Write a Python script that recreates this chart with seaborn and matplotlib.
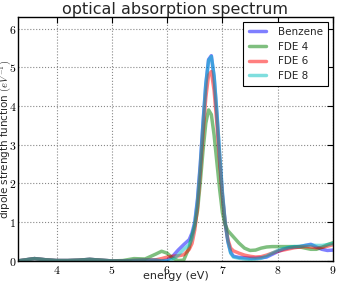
import matplotlib
matplotlib.use("Agg")
import matplotlib.pyplot as plt
from matplotlib.ticker import FuncFormatter
import pandas as pd
import seaborn as sns

energy = [3.3, 3.5, 3.6, 3.8, 4.0, 4.2, 4.4, 4.6, 4.8, 5.0,
          5.2, 5.4, 5.6, 5.8, 5.9, 6.0, 6.1, 6.2, 6.3, 6.4,
          6.45, 6.5, 6.55, 6.6, 6.65, 6.7, 6.75, 6.8, 6.85, 6.9,
          6.95, 7.0, 7.05, 7.1, 7.15, 7.2, 7.3, 7.4, 7.5, 7.6,
          7.7, 7.8, 7.9, 8.0, 8.1, 8.2, 8.3, 8.4, 8.5, 8.6,
          8.7, 8.8, 8.9, 9.0]

benzene = [0.0, 0.04, 0.06, 0.03, 0.01, 0.01, 0.02, 0.04, 0.02, 0.0,
           0.0, 0.01, 0.02, 0.02, 0.0, 0.02, 0.12, 0.28, 0.42, 0.55,
           0.72, 1.0, 1.6, 2.5, 3.58, 4.57, 5.2, 5.3, 4.75, 3.8,
           2.72, 1.73, 0.98, 0.5, 0.22, 0.12, 0.09, 0.08, 0.07, 0.07,
           0.08, 0.1, 0.17, 0.24, 0.3, 0.34, 0.36, 0.37, 0.4, 0.43,
           0.36, 0.3, 0.27, 0.28]

fde4 = [0.0, 0.04, 0.06, 0.03, 0.01, 0.01, 0.02, 0.04, 0.02, 0.0,
        0.01, 0.06, 0.05, 0.18, 0.25, 0.2, 0.07, 0.01, 0.02, 0.35,
        0.65, 0.9, 1.3, 2.03, 2.86, 3.56, 3.9, 3.78, 3.25, 2.55,
        1.85, 1.25, 0.93, 0.78, 0.7, 0.62, 0.46, 0.33, 0.27, 0.28,
        0.33, 0.36, 0.37, 0.37, 0.37, 0.37, 0.37, 0.36, 0.33, 0.3,
        0.3, 0.35, 0.42, 0.47]

fde6 = [0.0, 0.04, 0.06, 0.03, 0.01, 0.01, 0.02, 0.04, 0.02, 0.0,
        0.0, 0.01, 0.02, 0.03, 0.06, 0.1, 0.12, 0.13, 0.16, 0.3,
        0.45, 0.8, 1.4, 2.3, 3.3, 4.22, 4.8, 4.89, 4.4, 3.55,
        2.55, 1.65, 0.98, 0.55, 0.33, 0.26, 0.2, 0.15, 0.12, 0.1,
        0.11, 0.15, 0.2, 0.25, 0.28, 0.31, 0.34, 0.36, 0.37, 0.36,
        0.34, 0.35, 0.38, 0.42]

fde8 = [0.0, 0.04, 0.06, 0.03, 0.01, 0.01, 0.02, 0.04, 0.02, 0.0,
        0.0, 0.01, 0.02, 0.02, 0.0, 0.0, 0.05, 0.15, 0.3, 0.42,
        0.58, 0.95, 1.55, 2.45, 3.55, 4.55, 5.18, 5.28, 4.78, 3.85,
        2.78, 1.78, 1.0, 0.5, 0.2, 0.1, 0.07, 0.05, 0.04, 0.05,
        0.07, 0.12, 0.2, 0.27, 0.32, 0.35, 0.37, 0.38, 0.4, 0.41,
        0.4, 0.4, 0.42, 0.45]

series_names = ["Benzene", "FDE 4", "FDE 6", "FDE 8"]
series_values = [benzene, fde4, fde6, fde8]
colors = ["#0000ff", "#008000", "#ff0000", "#00bfbf"]

x_ticks = [4, 5, 6, 7, 8, 9]
y_ticks = [0, 1, 2, 3, 4, 5, 6]

sns.set_style("white")
plt.rcParams["font.family"] = ["DejaVu Sans"]
plt.rcParams["mathtext.fontset"] = "cm"

fig, ax = plt.subplots(figsize=(3.37, 2.83), dpi=100)
fig.subplots_adjust(left=0.053, right=0.988, bottom=0.078, top=0.94)

for name, vals, col in zip(series_names, series_values, colors):
    df = pd.DataFrame({"energy": energy, "strength": vals})
    sns.lineplot(data=df, x="energy", y="strength", color=col, alpha=0.5,
                 linewidth=2.5, label=name, ax=ax, sort=False, estimator=None)

ax.set_xlim(3.3, 9.0)
ax.set_ylim(0, 6.3)
ax.set_xticks(x_ticks)
ax.set_yticks(y_ticks)
fmt = FuncFormatter(lambda v, p: f"${v:g}$")
ax.xaxis.set_major_formatter(fmt)
ax.yaxis.set_major_formatter(fmt)
ax.tick_params(direction="in", top=True, right=True, length=4, width=0.8,
               labelsize=8.5, colors="black")
ax.tick_params(axis="y", pad=1)
ax.tick_params(axis="x", pad=2)
ax.grid(True, linestyle=":", color="#888888", linewidth=0.8)
for s in ax.spines.values():
    s.set_color("black")
    s.set_linewidth(1.0)

ax.set_xlabel("energy (eV)", fontsize=8)
ax.set_ylabel(r"dipole strength function $(eV^{-1})$", fontsize=7.5)
ax.xaxis.set_label_coords(0.5, -0.043)
ax.yaxis.set_label_coords(-0.017, 0.5)
ax.set_title("optical absorption spectrum", fontsize=11.5, pad=2)

leg = ax.legend(loc="upper right", bbox_to_anchor=(0.984, 0.981), borderaxespad=0,
                fontsize=7.5, frameon=True, fancybox=False, framealpha=1,
                handlelength=1.7, handletextpad=1.1, labelspacing=0.45,
                borderpad=0.5)
leg.get_frame().set_edgecolor("black")
leg.get_frame().set_linewidth(0.8)

fig.savefig("out.png", dpi=100)
